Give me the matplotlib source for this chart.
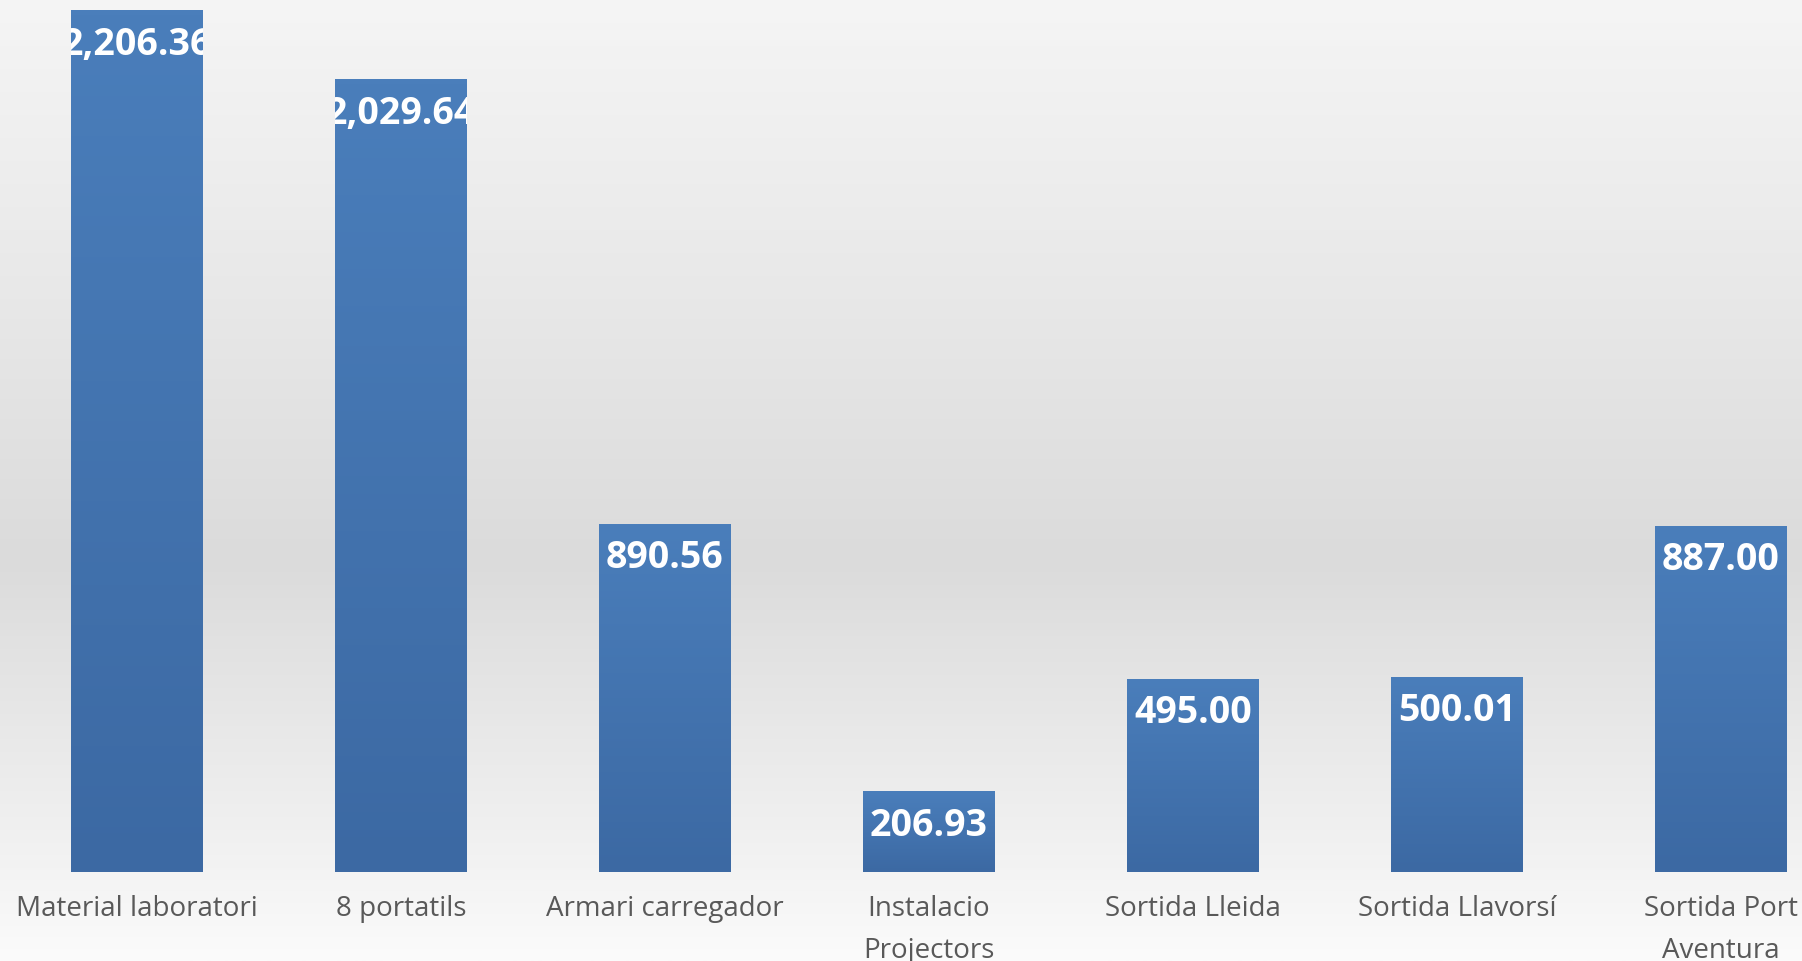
import numpy as np
import matplotlib
matplotlib.use("Agg")
import matplotlib.pyplot as plt
from matplotlib.colors import LinearSegmentedColormap

categories = ["Material laboratori", "8 portatils", "Armari carregador",
              "Instalacio\nProjectors", "Sortida Lleida", "Sortida Llavorsí",
              "Sortida Port\nAventura"]
values = [2206.36, 2029.64, 890.56, 206.93, 495.00, 500.01, 887.00]
value_labels = ["2,206.36", "2,029.64", "890.56", "206.93", "495.00", "500.01", "887.00"]

W, H = 1802, 962
fig = plt.figure(figsize=(W / 100, H / 100), dpi=100)

# background gradient (light - darker - light)
bg = fig.add_axes([0, 0, 1, 1], zorder=0)
bg.set_axis_off()
stops_y = np.array([0, 300, 560, 870, 962]) / H
stops_v = np.array([0xf5, 0xe8, 0xdb, 0xf3, 0xfb]) / 255.0
yy = np.linspace(0, 1, 600)
vv = np.interp(yy, stops_y, stops_v)
img = np.repeat(vv[:, None], 2, axis=1)
bg.imshow(np.dstack([img, img, img]), aspect="auto", extent=[0, 1, 1, 0],
          interpolation="bilinear")
bg.set_xlim(0, 1)
bg.set_ylim(1, 0)

ax = fig.add_axes([0, 89 / H, 1, 873 / H], zorder=1)
ax.patch.set_alpha(0)
for s in ax.spines.values():
    s.set_visible(False)
ax.set_xlim(-0.519, 6.307)
ax.set_ylim(0, 2235)
ax.set_xticks([])
ax.set_yticks([])

x = np.arange(len(categories))
bars = ax.bar(x, values, width=0.5, color="#4676b4", zorder=2)

# vertical gradient inside bars
cmap = LinearSegmentedColormap.from_list("bar", ["#3c69a3", "#4a7ebb"])
grad = np.linspace(0, 1, 256)[:, None]
for b in bars:
    x0, y0 = b.get_x(), b.get_y()
    w, h = b.get_width(), b.get_height()
    im = ax.imshow(grad, cmap=cmap, aspect="auto", origin="lower",
                   extent=[x0, x0 + w, y0, y0 + h], zorder=2.5,
                   interpolation="bilinear")
    im.set_clip_path(b)

for b, v, lab in zip(bars, values, value_labels):
    t = ax.annotate(lab, (b.get_x() + b.get_width() / 2, v),
                    xytext=(0, -24), textcoords="offset points",
                    ha="center", va="center", color="white",
                    fontsize=27, fontweight="bold", family="Open Sans",
                    zorder=4)
    t.set_clip_path(b)

for xi, cat in zip(x, categories):
    ax.annotate(cat, (xi, 0), xytext=(0, -16), textcoords="offset points",
                ha="center", va="top", color="#595959", fontsize=20,
                family="Open Sans", linespacing=1.65, annotation_clip=False)

ax.set_xlim(-0.519, 6.307)
ax.set_ylim(0, 2235)
fig.savefig("out.png", dpi=100)
